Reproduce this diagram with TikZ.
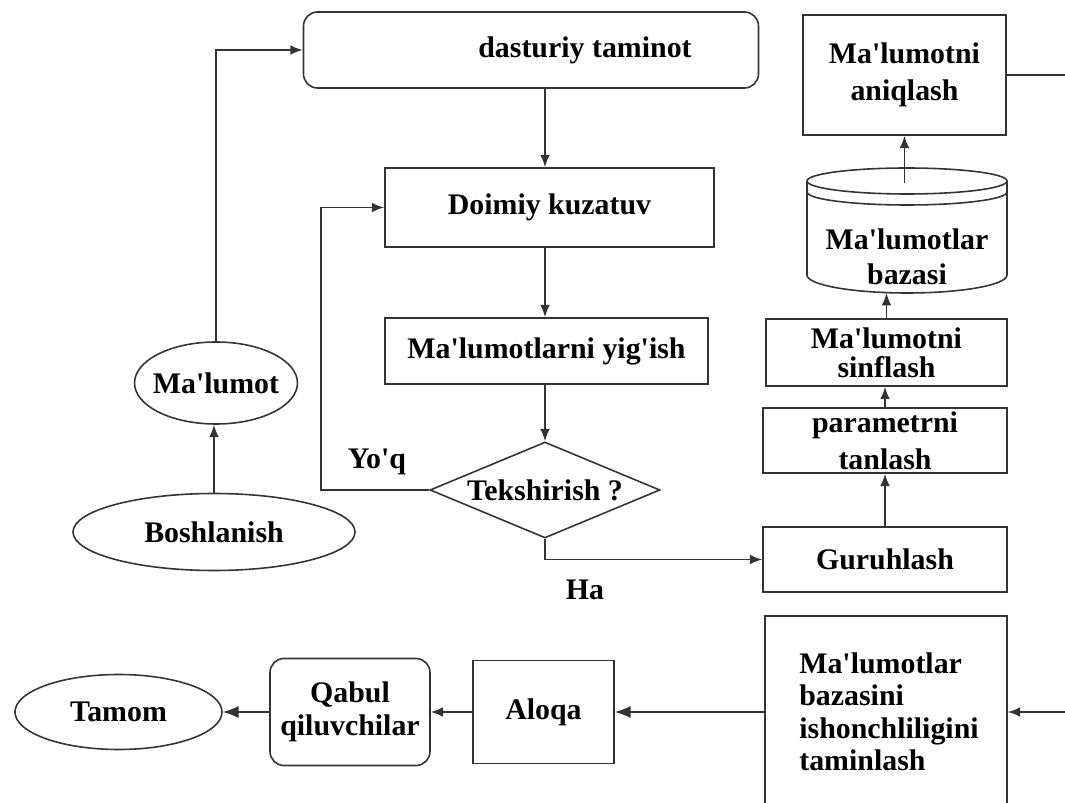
\documentclass[tikz,border=0pt]{standalone}
\usepackage{fontspec}
\newfontfamily\flowfont{Liberation Serif}
\usetikzlibrary{arrows.meta,calc,shapes.geometric}

\begin{document}
\begin{tikzpicture}[
  font=\flowfont\bfseries\fontsize{17}{21}\selectfont,
  line/.style={draw=black!80, line width=0.9pt},
  arr/.style={line, -{Latex[length=7pt,width=5.5pt]}},
  bigarr/.style={line, -{Latex[length=9pt,width=7pt]}},
  box/.style={line, rectangle, align=center, inner sep=0pt},
  rbox/.style={box, rounded corners=8pt},
  oval/.style={line, ellipse, inner sep=0pt, align=center},
  choice/.style={line, diamond, inner sep=0pt}
]
\useasboundingbox (0,0) rectangle (21.3,-16.06);

% ---------- middle column ----------
\node[rbox, minimum width=9.1cm, minimum height=1.52cm] (dast) at (10.62,-1.0)
  {\hspace*{2.16cm}dasturiy taminot};
\node[box, minimum width=6.58cm, minimum height=1.58cm] (doimiy) at (10.99,-4.15)
  {Doimiy kuzatuv};
\node[box, minimum width=6.46cm, minimum height=1.32cm] (yigish) at (10.93,-7.02)
  {Ma'lumotlarni yig'ish};
\node[choice, minimum width=4.6cm, minimum height=1.92cm,
  label={center:Tekshirish ?}] (tek) at (10.9,-9.8) {};

\node (yoq) at (7.54,-9.24) {Yo'q};
\node (ha)  at (11.7,-11.8) {Ha};

% ---------- left column ----------
\node[oval, minimum width=3.26cm, minimum height=1.64cm,
  label={center:Ma'lumot}] (malumot) at (4.32,-7.66) {};
\node[oval, minimum width=5.64cm, minimum height=1.54cm] (bosh) at (4.28,-10.64)
  {Boshlanish};

% ---------- right column ----------
\node[box, minimum width=4.06cm, minimum height=2.4cm] (aniq) at (18.09,-1.5)
  {Ma'lumotni\\aniqlash};

% database cylinder
\draw[line] (18.14,-3.62) ellipse [x radius=2.0, y radius=0.26];
\draw[line] (16.14,-3.84) arc [start angle=180, end angle=360, x radius=2.0, y radius=0.26];
\draw[line] (16.14,-3.62) -- (16.14,-5.5)
  arc [start angle=180, end angle=360, x radius=2.0, y radius=0.36]
  -- (20.14,-3.62);
\node[align=center, font=\flowfont\bfseries\fontsize{17}{20}\selectfont] (db) at (18.14,-5.14)
  {Ma'lumotlar\\bazasi};
\coordinate (dbtop) at (18.06,-3.66);
\coordinate (dbbot) at (18.14,-5.86);

\node[box, minimum width=4.82cm, minimum height=1.34cm,
  font=\flowfont\bfseries\fontsize{17}{16.5}\selectfont] (sinf) at (17.73,-7.05)
  {Ma'lumotni\\sinflash};
\node[box, minimum width=4.88cm, minimum height=1.3cm] (param) at (17.7,-8.81)
  {parametrni\\tanlash};
\node[box, minimum width=4.88cm, minimum height=1.3cm] (guru) at (17.7,-11.19)
  {Guruhlash};

% ---------- bottom row ----------
\node[box, align=left, minimum width=4.84cm, minimum height=3.84cm,
  font=\flowfont\bfseries\fontsize{17}{18.5}\selectfont] (ishonch) at (17.72,-14.24)
  {\hspace*{0.12cm}Ma'lumotlar\\\hspace*{0.12cm}bazasini\\\hspace*{0.12cm}ishonchliligini\\\hspace*{0.12cm}taminlash};
\node[box, minimum width=2.82cm, minimum height=2.06cm] (aloqa) at (10.87,-14.24)
  {Aloqa};
\node[rbox, minimum width=3.2cm, minimum height=2.14cm,
  font=\flowfont\bfseries\fontsize{17}{19}\selectfont] (qabul) at (7.0,-14.24)
  {Qabul\\qiluvchilar};
\node[oval, minimum width=4.14cm, minimum height=1.5cm] (tamom) at (2.37,-14.24)
  {Tamom};

% ---------- connectors ----------
\draw[arr] (bosh.north) -- (bosh.north |- malumot.south);
\draw[arr] (malumot.north) |- (dast.west);
\draw[arr] (tek.north |- dast.south) -- (tek.north |- doimiy.north);
\draw[arr] (tek.north |- doimiy.south) -- (tek.north |- yigish.north);
\draw[arr] (tek.north |- yigish.south) -- (tek.north);
\draw[arr] (tek.west) -- ++(-2.16,0) |- (doimiy.west);
\draw[arr] (tek.south) |- (guru.west);

\draw[arr] (guru) -- (param);
\draw[arr] (param.north) -- (param.north |- sinf.south);
\draw[arr] (sinf.north) -- (sinf.north |- dbbot);
\draw[arr] (aniq.south |- dbtop) -- (aniq.south);
\draw[arr] (aniq.east) -- ++(1.5,0) |- (ishonch.east);

\draw[bigarr] (ishonch.west) -- (aloqa.east);
\draw[arr] (aloqa.west) -- (qabul.east);
\draw[bigarr] (qabul.west) -- (tamom.east);
\end{tikzpicture}
\end{document}
